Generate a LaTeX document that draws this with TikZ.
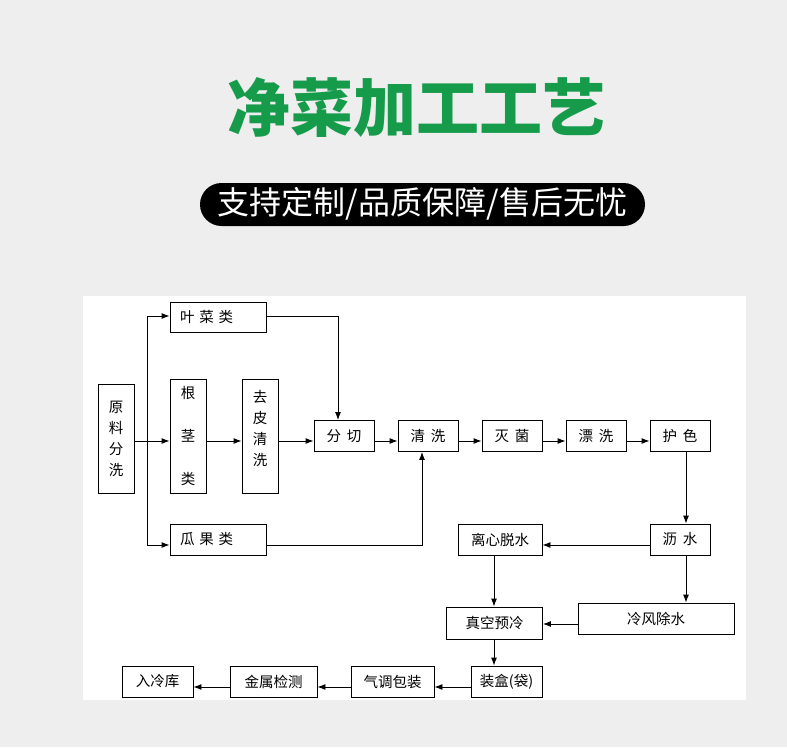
\documentclass[tikz,border=0pt]{standalone}
\usepackage{fontspec}
\setmainfont{Noto Sans CJK SC}
\newfontfamily\boxfont{Noto Sans CJK SC}[WordSpace=1.7]
\usetikzlibrary{arrows.meta}
\definecolor{bggray}{RGB}{238,238,238}
\definecolor{titlegreen}{RGB}{22,155,75}
\tikzset{
  px/.style={x=1pt,y=-1pt},
  box/.style={draw=black,line width=0.9pt,fill=white,inner sep=0pt,font=\boxfont\fontsize{14.5}{17}\selectfont},
  arr/.style={draw=black,line width=0.9pt,-{Latex[length=8pt,width=6pt]}},
  ln/.style={draw=black,line width=0.9pt}
}
\begin{document}
\begin{tikzpicture}[px]
\useasboundingbox (0,0) rectangle (787,747);
\fill[bggray] (0,0) rectangle (787,747);
\fill[white] (83,296) rectangle (746,700);
% title
\node[font=\fontsize{63}{70}\selectfont\bfseries,text=titlegreen] (title) at (416.5,107) {净菜加工工艺};
\node[fill=black,rounded corners=21.5pt,minimum width=445pt,minimum height=43pt,inner sep=0pt] (pill) at (422.5,204.5) {};
\node[text=white,font=\fontsize{32}{36}\selectfont] (sub) at (422.5,204) {支持定制/品质保障/售后无忧};
% boxes
\node[box,minimum width=36pt,minimum height=109pt,align=center] (yuan) at (116,438.5) {原\\[4pt]料\\[4pt]分\\[4pt]洗};
\node[box,minimum width=96pt,minimum height=30pt,text width=76pt,inner xsep=10pt,align=left] (ye) at (218,317) {叶 菜 类};
\node[box,minimum width=36pt,minimum height=114pt,align=center] (gen) at (188,436) {根\\[26pt]茎\\[26pt]类};
\node[box,minimum width=36pt,minimum height=114pt,align=center] (qupi) at (260,436) {去\\[4pt]皮\\[4pt]清\\[4pt]洗\\[0pt]};
\node[box,minimum width=96pt,minimum height=31pt,text width=76pt,inner xsep=10pt,align=left] (gua) at (218,539.5) {瓜 果 类};
\node[box,minimum width=60pt,minimum height=31pt] (fen) at (344,436) {分 切};
\node[box,minimum width=60pt,minimum height=31pt] (qing) at (428,436) {清 洗};
\node[box,minimum width=60pt,minimum height=31pt] (mie) at (512,436) {灭 菌};
\node[box,minimum width=60pt,minimum height=31pt] (piao) at (596,436) {漂 洗};
\node[box,minimum width=60pt,minimum height=31pt] (hu) at (680,436) {护 色};
\node[box,minimum width=60pt,minimum height=31pt] (li) at (680,539.5) {沥 水};
\node[box,minimum width=84pt,minimum height=31pt] (lixin) at (500,539.5) {离心脱水};
\node[box,minimum width=156pt,minimum height=31pt] (leng) at (656,618.5) {冷风除水};
\node[box,minimum width=96pt,minimum height=32pt] (zhen) at (494.5,623) {真空预冷};
\node[box,minimum width=71pt,minimum height=31pt] (zhuang) at (506.5,681.5) {装盒(袋)};
\node[box,minimum width=83pt,minimum height=31pt] (qi) at (392.5,681.5) {气调包装};
\node[box,minimum width=87pt,minimum height=31pt] (jin) at (273.5,681.5) {金属检测};
\node[box,minimum width=71pt,minimum height=31pt] (ru) at (157.5,681.5) {入冷库};
% reference coordinates
\coordinate (rowA) at (0,441);
\coordinate (br) at (147,441);
\coordinate (yeRow) at (0,316);
\coordinate (guaRow) at (0,545);
\coordinate (colYe) at (338,0);
\coordinate (colGua) at (422,0);
\coordinate (colHu) at (686,0);
\coordinate (colZ) at (494,0);
\coordinate (rowL) at (0,545);
\coordinate (rowLeng) at (0,624);
\coordinate (rowB) at (0,687);
% connectors
\draw[arr] (yuan.east |- rowA) -- (gen.west |- rowA);
\draw[arr] (br) -- (br |- yeRow) -- (ye.west |- yeRow);
\draw[arr] (br) -- (br |- guaRow) -- (gua.west |- guaRow);
\draw[arr] (gen.east |- rowA) -- (qupi.west |- rowA);
\draw[arr] (qupi.east |- rowA) -- (fen.west |- rowA);
\draw[arr] (fen.east |- rowA) -- (qing.west |- rowA);
\draw[arr] (qing.east |- rowA) -- (mie.west |- rowA);
\draw[arr] (mie.east |- rowA) -- (piao.west |- rowA);
\draw[arr] (piao.east |- rowA) -- (hu.west |- rowA);
\draw[arr] (ye.east |- yeRow) -- (colYe |- yeRow) -- (colYe |- fen.north);
\draw[arr] (gua.east |- guaRow) -- (colGua |- guaRow) -- (colGua |- qing.south);
\draw[arr] (colHu |- hu.south) -- (colHu |- li.north);
\draw[arr] (li.west |- rowL) -- (lixin.east |- rowL);
\draw[arr] (colHu |- li.south) -- (colHu |- leng.north);
\draw[arr] (colZ |- lixin.south) -- (colZ |- zhen.north);
\draw[arr] (leng.west |- rowLeng) -- (zhen.east |- rowLeng);
\draw[arr] (colZ |- zhen.south) -- (colZ |- zhuang.north);
\draw[arr] (zhuang.west |- rowB) -- (qi.east |- rowB);
\draw[arr] (qi.west |- rowB) -- (jin.east |- rowB);
\draw[arr] (jin.west |- rowB) -- (ru.east |- rowB);
\end{tikzpicture}
\end{document}
